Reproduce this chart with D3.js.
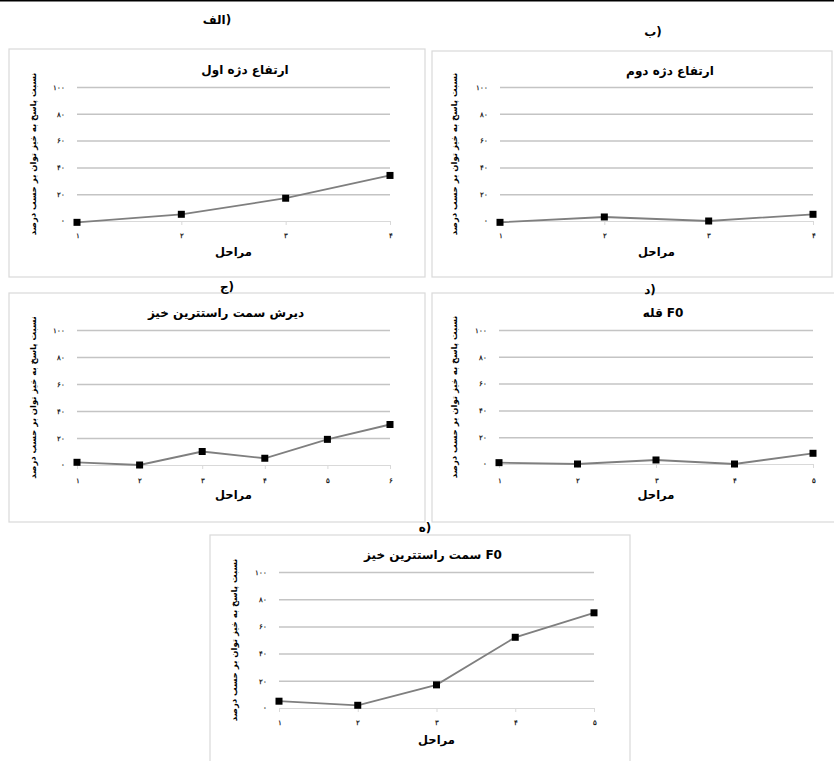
<!doctype html>
<html>
  <head>
    <meta charset="utf-8"/>
    <title>مراحل</title>
    <style>
      body, html {
        padding: 0;
        margin: 0;
        background: #fff;
      }
      svg { display: block; }
      .fa { font-family: "DejaVu Sans", sans-serif; }
      .box { fill: #fff; stroke: #d9d9d9; stroke-width: 1.2; }
      .grid line { stroke: #c4c4c4; stroke-width: 1.5; }
      .grid text { font-size: 7px; font-weight: bold; fill: #222; }
      .xaxis line, .xaxis path { stroke: #d9d9d9; stroke-width: 1; }
      .xaxis text { font-size: 7px; font-weight: bold; fill: #222; }
      .series { fill: none; stroke: #7f7f7f; stroke-width: 1.8; }
      .marker { fill: #000; }
    </style>
    <script src="https://d3js.org/d3.v7.min.js"></script>
  </head>
  <body>
    <svg width="834" height="761"></svg>
    <script>
      // data
      var yTicks = [0, 20, 40, 60, 80, 100];
      var stages4 = [1, 2, 3, 4];
      var stages5 = [1, 2, 3, 4, 5];
      var stages6 = [1, 2, 3, 4, 5, 6];

      var firstPeakHeight = [-1, 5, 17, 34];
      var secondPeakHeight = [-1, 3, 0, 5];
      var lastRiseDuration = [2, 0, 10, 5, 19, 30];
      var peakF0 = [1, 0, 3, 0, 8];
      var lastRiseF0 = [5, 2, 17, 52, 70];

      var panelLabels = ["الف", "ب", "ج", "د", "ه"];
      var panelTitles = ["ارتفاع دژه اول", "ارتفاع دژه دوم", "دیرش سمت راستترین خیز", "F0 قله", "F0 سمت راستترین خیز"];
      var xTitle = "مراحل";
      var yTitle = "نسبت پاسخ به خیز توان بر حسب درصد";

      var panels = [
        { stages: stages4, values: firstPeakHeight, box: [9, 49, 416, 228], plot: [77, 87, 390, 221], label: [217, 24], title: [245, 74], xlab: 236, xtitle: 256, ytitle: 36 },
        { stages: stages4, values: secondPeakHeight, box: [432, 51, 400, 226], plot: [500, 87, 813, 221], label: [653, 36], title: [670, 75], xlab: 236, xtitle: 256, ytitle: 457 },
        { stages: stages6, values: lastRiseDuration, box: [9, 293, 416, 229], plot: [77, 330, 390, 465], label: [227, 291], title: [226, 317], xlab: 481, xtitle: 499, ytitle: 36 },
        { stages: stages5, values: peakF0, box: [432, 293, 404, 229], plot: [499, 330, 813, 464], label: [650, 294], title: [663, 317], xlab: 481, xtitle: 499, ytitle: 457 },
        { stages: stages5, values: lastRiseF0, box: [210, 535, 420, 240], plot: [279, 572, 594, 708], label: [425, 532], title: [433, 559], xlab: 723, xtitle: 744, ytitle: 237 }
      ];

      var persian = function(d) {
        return String(d).replace(/\d/g, function(c) { return "۰۱۲۳۴۵۶۷۸۹"[c]; });
      };

      // arabic run on the left, latin run on the right, centred on cx
      // (two separate texts so the bidi ordering can't flip them)
      function pairText(g, cx, cy, left, right, size, gap) {
        var a = g.append("text").attr("y", cy).attr("font-size", size).attr("font-weight", "bold").text(left);
        var b = g.append("text").attr("y", cy).attr("font-size", size).attr("font-weight", "bold").text(right);
        var wa = a.node().getComputedTextLength(), wb = b.node().getComputedTextLength();
        var x0 = cx - (wa + gap + wb) / 2;
        a.attr("x", x0);
        b.attr("x", x0 + wa + gap);
      }

      var svg = d3.select("svg");

      // black rule at the very top
      svg.append("rect").attr("x", 0).attr("y", 0).attr("width", 834).attr("height", 1.5).attr("fill", "#000");

      panels.forEach(function(p, i) {
        var g = svg.append("g").attr("class", "fa");

        g.append("rect").attr("class", "box")
          .attr("x", p.box[0]).attr("y", p.box[1])
          .attr("width", p.box[2]).attr("height", p.box[3]);

        var x = d3.scalePoint().domain(p.stages).range([p.plot[0], p.plot[2]]);
        var y = d3.scaleLinear().domain([0, 100]).range([p.plot[3], p.plot[1]]);

        // horizontal gridlines + y tick labels
        g.append("g").attr("class", "grid")
          .attr("transform", "translate(" + p.plot[0] + ",0)")
          .call(d3.axisLeft(y).tickValues(yTicks.slice(1)).tickSize(-(p.plot[2] - p.plot[0])).tickPadding(12).tickFormat(persian))
          .call(function(s) { s.select(".domain").remove(); });

        g.append("text")
          .attr("x", p.plot[0] - 12).attr("y", y(0)).attr("dy", "0.32em")
          .attr("text-anchor", "end").attr("font-size", 7).attr("font-weight", "bold").attr("fill", "#222")
          .text(persian(0));

        // category axis at zero
        g.append("g").attr("class", "xaxis")
          .attr("transform", "translate(0," + y(0) + ")")
          .call(d3.axisBottom(x).tickSizeOuter(0).tickSize(4).tickPadding(p.xlab - y(0) - 7).tickFormat(persian));

        var line = d3.line()
          .x(function(d, j) { return x(p.stages[j]); })
          .y(function(d) { return y(d); });

        g.append("path").attr("class", "series").attr("d", line(p.values));

        g.selectAll(".marker").data(p.values).enter().append("rect")
          .attr("class", "marker")
          .attr("x", function(d, j) { return x(p.stages[j]) - 3.5; })
          .attr("y", function(d) { return y(d) - 3.5; })
          .attr("width", 7).attr("height", 7);

        // panel letter with closing paren on its right
        pairText(g, p.label[0], p.label[1], panelLabels[i], ")", 12, 0);

        var t = panelTitles[i];
        var m = t.match(/^([A-Za-z0-9]+) (.*)$/);
        if (m) {
          pairText(g, p.title[0], p.title[1], m[2], m[1], 12, 4);
        } else {
          g.append("text")
            .attr("x", p.title[0]).attr("y", p.title[1])
            .attr("text-anchor", "middle").attr("font-size", 12).attr("font-weight", "bold")
            .text(t);
        }

        g.append("text")
          .attr("x", (p.plot[0] + p.plot[2]) / 2).attr("y", p.xtitle)
          .attr("text-anchor", "middle").attr("font-size", 11.5).attr("font-weight", "bold")
          .text(xTitle);

        g.append("text")
          .attr("transform", "translate(" + p.ytitle + "," + (p.plot[1] + p.plot[3]) / 2 + ") rotate(-90)")
          .attr("text-anchor", "middle").attr("font-size", 8.5).attr("font-weight", "bold")
          .text(yTitle);
      });
    </script>
  </body>
</html>
